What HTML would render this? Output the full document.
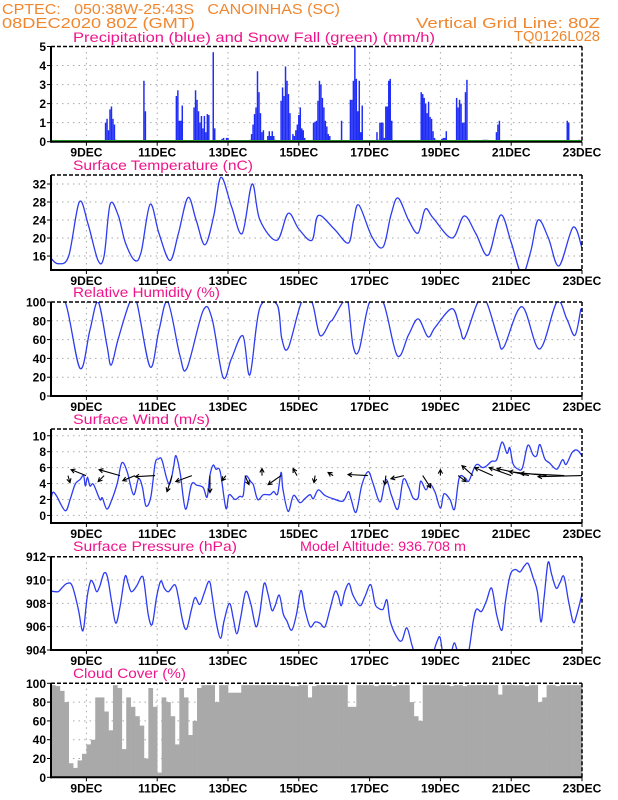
<!DOCTYPE html>
<html><head><meta charset="utf-8">
<style>
html,body{margin:0;padding:0;background:#fff;}
svg{display:block;font-family:"Liberation Sans",sans-serif;}
.hdr{fill:#f0872f;font-size:15px;}
.ttl{fill:#f0148c;font-size:14px;}
.tk{fill:#000;font-size:12px;font-weight:bold;}
.dt{fill:#000;font-size:12px;font-weight:bold;text-anchor:middle;}
</style></head><body>
<svg id="chart" width="618" height="800" viewBox="0 0 618 800">
<text class="hdr" x="2" y="14" textLength="338" lengthAdjust="spacingAndGlyphs">CPTEC:&#160;&#160;&#160;050:38W-25:43S&#160;&#160;&#160;CANOINHAS (SC)</text>
<text class="hdr" x="2" y="28" textLength="193" lengthAdjust="spacingAndGlyphs">08DEC2020 80Z (GMT)</text>
<text class="hdr" x="416" y="28" textLength="184" lengthAdjust="spacingAndGlyphs">Vertical Grid Line: 80Z</text>
<text class="hdr" x="514" y="41" textLength="86" lengthAdjust="spacingAndGlyphs">TQ0126L028</text>
</svg>
<script>
// ---------- data ----------
const dayLabels = ["9DEC","11DEC","13DEC","15DEC","17DEC","19DEC","21DEC","23DEC"];
const dayLabelOffsets = [1,3,5,7,9,11,13,15];

const precipHours = [37,38,39,40,41,42,43,44,63,64,85,86,87,88,89,97,98,99,100,101,102,103,104,105,106,107,110,111,116,117,119,120,135,136,137,138,139,140,141,142,143,144,147,148,149,150,151,152,156,157,158,159,160,161,162,164,165,166,167,168,169,170,171,172,178,179,180,181,182,183,184,185,186,187,188,189,197,203,204,205,206,207,208,209,210,211,218,219,221,222,223,224,225,226,227,228,229,230,231,251,252,253,254,255,256,257,258,259,260,261,264,265,266,267,268,275,276,277,278,279,280,281,282,293,294,295,296,302,303,304,350,351,358];
const precipValues = [1.0,1.2,0.6,1.7,1.85,1.2,0.9,0.1,3.2,1.6,2.4,2.7,1.1,1.1,1.9,1.8,2.7,2.2,1.6,1.0,1.35,0.7,1.35,0.5,1.45,1.4,4.7,0.7,0.15,0.2,0.2,0.2,0.1,0.4,0.9,1.45,1.8,3.7,2.6,1.5,0.5,0.6,0.3,0.55,0.3,0.55,0.3,0.1,2.15,2.85,2.4,3.95,3.2,2.5,1.5,0.4,0.3,0.6,0.9,1.4,1.8,0.7,0.6,0.2,1.0,1.05,1.1,2.15,3.2,3.0,2.3,1.8,1.1,0.8,0.4,0.3,1.1,2.2,2.2,3.2,5.0,3.3,1.6,3.2,0.5,1.9,0.05,0.05,0.5,0.1,1.0,1.0,1.0,0.2,1.85,1.85,3.2,3.3,1.1,2.6,2.5,2.3,2.0,1.5,2.1,1.3,1.2,0.55,0.2,0.1,0.05,0.15,0.2,0.2,0.55,2.3,1.8,2.2,2.0,1.0,1.0,2.6,3.25,0.1,0.1,0.1,0.1,0.5,0.9,1.1,1.1,1.0,0.1];

const tempDays = [0,0.2,0.5,0.8,1.05,1.33,1.5,1.67,1.9,2.1,2.37,2.55,2.8,3.05,3.36,3.6,3.87,4.1,4.35,4.6,4.8,5.1,5.4,5.68,5.9,6.38,6.7,7.0,7.37,7.55,8.0,8.4,8.55,8.7,9.07,9.38,9.6,9.8,10.1,10.37,10.57,10.8,11.33,11.67,12.0,12.35,12.7,13.0,13.3,13.55,13.76,14.05,14.35,14.75,15.0];
const tempValues = [15.5,14.3,16,28,23,15,16,27.5,25,19,15,17,27.5,21,15,21,29,24,18.5,25,33.5,27,21,32,24,19.5,25.5,22,19.5,25,22,18.9,24,27.3,20.2,18,25,28.9,24,21.1,26.4,24.4,20,24.9,21,16.2,25.1,19,12,17,24,20,13.8,22.4,17.8];

const rhDays = [0,0.4,0.82,1.1,1.33,1.58,1.7,1.9,2.23,2.42,2.8,3.05,3.3,3.64,3.84,4.3,4.55,4.86,5.1,5.42,5.62,5.9,6.38,6.52,6.7,7.08,7.37,7.6,7.88,7.97,8.25,8.39,8.53,8.7,9.0,9.38,9.78,10.1,10.37,10.65,10.85,11.33,11.55,11.69,12.06,12.3,12.63,12.79,13.3,13.8,14.29,14.57,14.8,14.97];
const rhValues = [100,100,29.5,70,100,54,33,61,100,100,31,70,100,43,29.5,91,82,20,40,64,22.6,94,97.5,61,51,100,100,64.5,78.7,82,100,100,54,48.6,100,100,43,65,82,63,73,93,72,62,100,100,61,52,95,50,100,82,64.5,93];

const windDays = [0,0.05,0.15,0.4,0.54,0.68,0.82,0.92,0.97,1.03,1.1,1.2,1.38,1.45,1.58,1.72,1.87,2.0,2.15,2.33,2.47,2.58,2.68,2.82,2.94,3.04,3.13,3.27,3.36,3.46,3.53,3.65,3.8,3.97,4.12,4.3,4.41,4.49,4.58,4.66,4.78,4.94,5.03,5.2,5.33,5.43,5.5,5.65,5.72,5.84,6.0,6.19,6.29,6.4,6.5,6.55,6.7,6.85,7.03,7.17,7.32,7.41,7.55,7.74,7.97,8.25,8.4,8.48,8.62,8.78,8.96,9.1,9.3,9.46,9.62,9.8,9.95,10.1,10.23,10.37,10.44,10.59,10.7,10.85,11.0,11.1,11.27,11.4,11.53,11.7,11.8,11.97,12.06,12.19,12.3,12.45,12.59,12.74,12.88,12.96,13.05,13.2,13.32,13.47,13.62,13.72,13.81,13.95,14.08,14.29,14.45,14.55,14.72,14.86,15.0];
const windValues = [2.0,2.9,2.5,0.6,2.0,3.9,4.5,5.0,3.7,4.8,3.7,3.9,2.0,2.2,0.8,2.0,4.0,6.6,5.5,2.6,4.6,3.6,1.2,2.3,6.5,7.1,7.0,4.6,4.0,6.0,7.5,5.3,0.8,3.9,3.8,3.5,2.3,5.0,6.3,5.8,5.5,0.9,2.6,2.0,2.4,2.5,4.9,4.2,3.8,2.0,2.6,2.6,3.0,2.7,5.4,3.3,0.5,2.5,1.6,2.1,2.6,2.1,3.2,2.5,2.1,1.8,3.0,2.0,0.4,3.8,5.5,4.0,1.7,4.5,2.5,0.8,4.5,3.6,2.2,2.2,4.3,3.2,4.0,2.9,0.9,2.7,2.0,0.8,4.7,4.7,4.3,6.1,6.4,6.0,6.2,6.8,7.0,9.2,7.8,8.5,6.5,5.8,6.0,8.8,7.6,7.5,8.9,7.1,6.6,5.8,7.0,6.4,7.9,8.2,7.5];

const arrowDays = [0.48,0.99,1.5,1.95,2.37,2.94,3.42,3.98,4.49,4.94,5.48,5.96,6.5,6.95,7.46,7.97,8.95,9.46,9.97,10.5,11.0,11.5,11.92,12.48,13.0,13.5,14.0,14.5,15.0];
const arrowU = [0.9,-6.8,-2.7,-9.5,-5.5,-9,-2.3,-7.3,0,-1.8,1.8,0,-5.9,-1.8,-0.5,-2.3,-9,-0.5,-5.9,3.6,0,3.6,-5,-8.2,-10,-14.5,-17,-20,-20];
const arrowV = [-3.2,2.7,-2.7,2.7,-2.3,-0.5,-7.3,-2.7,-7.7,-2.3,-4.1,3.2,-4.1,3.2,-3.2,1.4,0.5,-4.1,-1.4,-5.5,2.7,-2.7,4.5,3.6,3.6,3.2,1.8,1,-0.5];

const presDays = [0,0.2,0.3,0.45,0.6,0.77,0.87,0.93,1.02,1.12,1.2,1.29,1.38,1.5,1.6,1.72,1.83,1.95,2.09,2.18,2.27,2.42,2.56,2.63,2.75,2.86,2.98,3.1,3.2,3.32,3.5,3.6,3.72,3.83,3.97,4.07,4.2,4.32,4.47,4.56,4.66,4.79,4.89,5.04,5.15,5.25,5.36,5.5,5.64,5.79,5.9,6.02,6.13,6.24,6.33,6.45,6.56,6.66,6.8,6.93,7.06,7.17,7.32,7.46,7.6,7.74,7.88,8.02,8.11,8.2,8.3,8.42,8.53,8.73,8.87,9.03,9.15,9.24,9.38,9.49,9.58,9.77,9.91,10.05,10.19,10.28,10.42,10.56,10.75,10.9,10.99,11.08,11.27,11.39,11.5,11.64,11.78,11.93,12.02,12.16,12.3,12.45,12.59,12.74,12.83,12.97,13.11,13.25,13.37,13.48,13.62,13.74,13.84,13.93,14.04,14.14,14.27,14.38,14.49,14.62,14.75,14.84,15.0];
const presValues = [909.05,909.0,909.3,909.7,909.5,907.5,905.8,906.0,908.5,909.9,909.7,909.0,909.5,910.6,910.2,908.0,906.3,907.7,910.3,909.7,909.0,909.5,910.3,909.8,907.0,906.2,908.5,909.9,909.3,909.0,909.6,908.5,906.5,905.8,907.5,908.5,907.9,908.8,909.9,908.5,906.5,905.0,906.5,908.0,906.7,905.4,906.8,909.0,908.0,906.0,907.2,909.7,908.8,907.4,907.8,908.7,907.1,906.5,905.7,907.0,909.1,907.5,906.0,906.4,906.3,906.0,907.5,909.0,908.7,907.8,909.0,909.7,908.7,907.8,908.6,909.6,908.0,907.6,907.5,908.3,906.5,905.1,904.8,905.9,904.5,903.7,904.0,903.8,903.5,904.7,905.1,903.7,903.5,904.6,903.8,904.0,903.6,906.5,907.5,907.3,908.2,909.3,907.0,905.7,908.0,910.4,910.9,910.7,911.2,911.4,910.2,909.0,906.4,908.5,911.5,910.5,909.3,909.8,910.3,908.2,906.4,906.9,908.8];

// cloud cover, 3-hourly bins starting 08DEC 00Z
const cloudValues = [98,97,92,80,15,10,18,25,35,40,85,85,70,50,98,95,30,85,75,65,55,20,95,75,5,85,80,65,35,95,85,45,60,95,98,98,98,80,98,98,90,90,90,98,98,98,98,98,98,98,98,98,98,98,97,97,98,98,85,97,98,98,98,98,98,98,98,75,75,98,98,98,98,97,98,98,98,97,98,98,98,80,65,60,98,98,98,98,98,98,97,98,98,97,98,98,98,98,98,98,98,88,98,98,98,98,98,97,98,98,80,85,98,98,97,98,98,98,98,98];

// ---------- drawing ----------
const NS = "http://www.w3.org/2000/svg";
const svg = document.getElementById("chart");
const X0 = 51, X1 = 582, DAYS = 15;
const xDay = d => X0 + (X1 - X0) * d / DAYS;
function mk(tag, attrs, parent) {
  const e = document.createElementNS(NS, tag);
  for (const k in attrs) e.setAttribute(k, attrs[k]);
  (parent || svg).appendChild(e);
  return e;
}
function smoothPath(pts) {
  let d = "M" + pts[0][0].toFixed(1) + "," + pts[0][1].toFixed(1);
  for (let i = 0; i < pts.length - 1; i++) {
    const p0 = pts[Math.max(0, i - 1)], p1 = pts[i], p2 = pts[i + 1], p3 = pts[Math.min(pts.length - 1, i + 2)];
    const c1x = p1[0] + (p2[0] - p0[0]) / 6, c1y = p1[1] + (p2[1] - p0[1]) / 6;
    const c2x = p2[0] - (p3[0] - p1[0]) / 6, c2y = p2[1] - (p3[1] - p1[1]) / 6;
    d += " C" + c1x.toFixed(1) + "," + c1y.toFixed(1) + " " + c2x.toFixed(1) + "," + c2y.toFixed(1) + " " + p2[0].toFixed(1) + "," + p2[1].toFixed(1);
  }
  return d;
}

const panels = [
  {key:"precip", top:46.5, bot:141.7, min:0, max:5, ticks:[0,1,2,3,4,5], title:"Precipitation (blue) and Snow Fall (green) (mm/h)", tw:362, ty:42},
  {key:"temp", top:175, bot:270, min:12.9, max:34, ticks:[16,20,24,28,32], title:"Surface Temperature (nC)", tw:180, ty:170},
  {key:"rh", top:302, bot:396, min:0, max:100, ticks:[0,20,40,60,80,100], title:"Relative Humidity (%)", tw:147, ty:297},
  {key:"wind", top:429, bot:523, min:-0.95, max:10.85, ticks:[0,2,4,6,8,10], title:"Surface Wind (m/s)", tw:137, ty:424},
  {key:"pres", top:556.7, bot:650, min:904, max:912, ticks:[904,906,908,910,912], title:"Surface Pressure (hPa)", tw:164, ty:551},
  {key:"cloud", top:683.3, bot:777.3, min:0, max:100, ticks:[0,20,40,60,80,100], title:"Cloud Cover (%)", tw:113, ty:678}
];

panels.forEach(p => {
  const g = mk("g", {});
  
  
  p.y = v => p.bot - (p.bot - p.top) * (v - p.min) / (p.max - p.min);
  p.g = g;
  const t = mk("text", {class:"ttl", x:73, y:p.ty, textLength:p.tw, lengthAdjust:"spacingAndGlyphs"}, g);
  t.textContent = p.title;
  
  
  const cp = mk("clipPath", {id:"clip-" + p.key}, g);
  mk("rect", {x:X0, y:p.top, width:X1 - X0, height:p.bot - p.top}, cp);
  p.clip = "url(#clip-" + p.key + ")";
  dayLabelOffsets.forEach(d => {
    if (d < DAYS) {
      const gl = mk("line", {x1:xDay(d), x2:xDay(d), y1:p.top, y2:p.bot, stroke:"#aaa", "stroke-width":1, "stroke-dasharray":"1.5,4"}, g);
      
      
    }
  });
  p.ticks.forEach(v => {
    const yy = p.y(v);
    if (yy > p.top + 1 && yy < p.bot - 1) {
      const hl = mk("line", {x1:X0, x2:X1, y1:yy, y2:yy, stroke:"#aaa", "stroke-width":1, "stroke-dasharray":"1.5,4"}, g);
      
      
    }
    const tl = mk("text", {class:"tk", x:46, y:yy + 4.5, "text-anchor":"end"}, g);
    tl.textContent = v;
    
    
    mk("line", {x1:X0 - 4, x2:X0, y1:yy, y2:yy, stroke:"#000", "stroke-width":1}, g);
  });
  dayLabels.forEach((lab, i) => {
    const dl = mk("text", {class:"dt", x:xDay(dayLabelOffsets[i]), y:p.bot + 15}, g);
    dl.textContent = lab;
    
    
    mk("line", {x1:xDay(dayLabelOffsets[i]), x2:xDay(dayLabelOffsets[i]), y1:p.bot, y2:p.bot + 4, stroke:"#000", "stroke-width":1}, g);
  });
});

const P = {}; panels.forEach(p => P[p.key] = p);

(function(){
  const p = P.cloud, w = (X1 - X0) / cloudValues.length;
  cloudValues.forEach((v, i) => {
    const r = mk("rect", {x:X0 + i * w, y:p.y(v), width:w + 0.3, height:p.bot - p.y(v), fill:"#a9a9a9"}, p.g);
    
    
  });
})();

(function(){
  const p = P.precip, w = (X1 - X0) / (DAYS * 24);
  precipHours.forEach((h, i) => {
    const v = precipValues[i];
    const r = mk("rect", {x:xDay(h / 24) - w / 2, y:p.y(v), width:w, height:p.bot - p.y(v), fill:"#1f2cf5"}, p.g);
    
    
  });
  const sn = mk("line", {x1:X0, x2:X1, y1:p.bot - 1, y2:p.bot - 1, stroke:"#2ec02e", "stroke-width":1.5}, p.g);
  
  
})();

function drawLine(p, days, vals, name) {
  const pts = days.map((d, i) => [xDay(d), p.y(vals[i])]);
  const path = mk("path", {d:smoothPath(pts), fill:"none", stroke:"#2d3cf2", "stroke-width":1.3, "clip-path":p.clip}, p.g);
  
  
}
drawLine(P.temp, tempDays, tempValues, 'temperature-line');
drawLine(P.rh, rhDays, rhValues, 'humidity-line');
drawLine(P.wind, windDays, windValues, 'wind-speed-line');
drawLine(P.pres, presDays, presValues, 'pressure-line');

(function(){
  const p = P.wind, k = 2.2, baseY = p.y(5);
  arrowDays.forEach((d, i) => {
    const x1 = xDay(d), y1 = baseY;
    const x2 = x1 + arrowU[i] * k, y2 = y1 - arrowV[i] * k;
    const ang = Math.atan2(y2 - y1, x2 - x1);
    const h = 4.5;
    const a1x = x2 - h * Math.cos(ang - 0.5), a1y = y2 - h * Math.sin(ang - 0.5);
    const a2x = x2 - h * Math.cos(ang + 0.5), a2y = y2 - h * Math.sin(ang + 0.5);
    const ar = mk("path", {d:`M${x1},${y1} L${x2},${y2} M${a1x},${a1y} L${x2},${y2} L${a2x},${a2y}`, fill:"none", stroke:"#000", "stroke-width":1.1}, p.g);
    
    
  });
})();

panels.forEach(p => {
  mk("line", {x1:X0, x2:X1, y1:p.top, y2:p.top, stroke:"#000", "stroke-width":1.5, "stroke-dasharray":"4,2"}, p.g);
  mk("line", {x1:X1, x2:X1, y1:p.top, y2:p.bot, stroke:"#000", "stroke-width":1.5, "stroke-dasharray":"4,2"}, p.g);
  mk("line", {x1:X0, x2:X0, y1:p.top, y2:p.bot + 1, stroke:"#000", "stroke-width":2}, p.g);
  mk("line", {x1:X0, x2:X1, y1:p.bot, y2:p.bot, stroke:"#000", "stroke-width":2}, p.g);
});

const alt = mk("text", {class:"ttl", x:300, y:551, textLength:166, lengthAdjust:"spacingAndGlyphs"});
alt.textContent = "Model Altitude: 936.708 m";


</script>
</body></html>
